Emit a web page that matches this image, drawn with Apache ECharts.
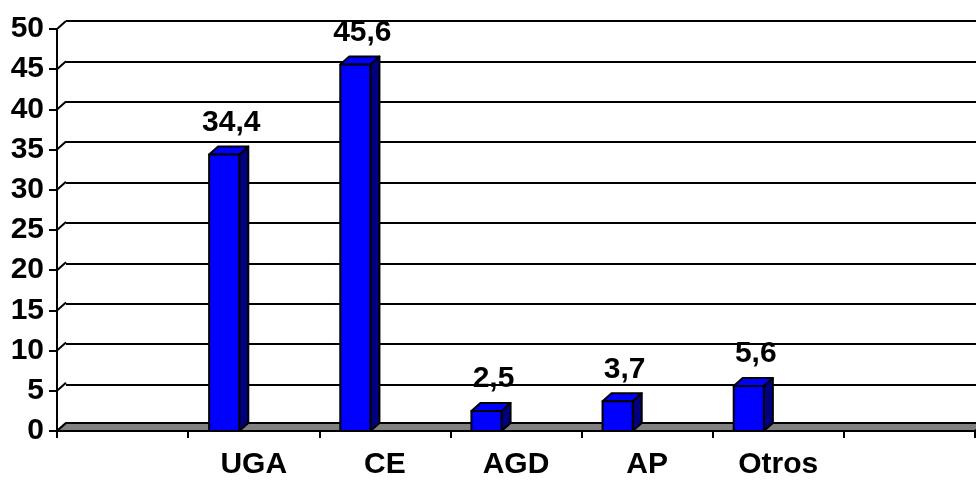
<!DOCTYPE html>
<html>
<head>
<meta charset="utf-8">
<script src="https://cdn.jsdelivr.net/npm/echarts@6/dist/echarts.min.js"></script>
<style>
  html, body { margin: 0; padding: 0; background: #fff; }
  #chart { width: 976px; height: 480px; }
</style>
</head>
<body>
<div id="chart"></div>
<script>
// Categories shown on the horizontal axis (empty slots at both ends)
const barCategories = ['UGA', 'CE', 'AGD', 'AP', 'Otros'];
const axisCategories = [''].concat(barCategories, ['']);
// Percentages per category
const values = [34.4, 45.6, 2.5, 3.7, 5.6];
// Vertical scale
const yMin = 0;
const yMax = 50;
const yStep = 5;
const yTicks = [0, 5, 10, 15, 20, 25, 30, 35, 40, 45, 50];

// Pseudo-3D depth offset (pixels) of the back wall relative to the front plane
const DX = 9;
const DY = -8;
const FONT = 'Liberation Sans, Arial, sans-serif';

const chart = echarts.init(document.getElementById('chart'), null, { renderer: 'canvas' });

function fmt(v) { return String(v).replace('.', ','); }

const option = {
  backgroundColor: '#ffffff',
  animation: false,
  grid: [
    // front plane: axes, labels, bars
    { left: 57, right: 1, top: 29, bottom: 47, containLabel: false },
    // back wall: gridlines
    { left: 57 + DX, right: 1 - DX, top: 29 + DY, bottom: 47 - DY, containLabel: false }
  ],
  xAxis: [
    {
      gridIndex: 0,
      type: 'category',
      data: axisCategories,
      boundaryGap: true,
      axisLine: { lineStyle: { color: '#000', width: 2 } },
      axisTick: { show: true, interval: 0, length: 7, lineStyle: { color: '#000', width: 2 } },
      axisLabel: {
        interval: 0, margin: 19, color: '#000',
        fontFamily: FONT, fontWeight: 'bold', fontSize: 30
      },
      splitLine: { show: false },
      z: 5
    },
    {
      gridIndex: 1,
      type: 'category',
      data: axisCategories,
      show: false
    }
  ],
  yAxis: [
    {
      gridIndex: 0,
      type: 'value',
      min: yMin, max: yMax, interval: yStep,
      axisLine: { show: true, lineStyle: { color: '#000', width: 2 } },
      axisTick: { show: true, length: 8, lineStyle: { color: '#000', width: 2 } },
      axisLabel: {
        margin: 13, color: '#000',
        fontFamily: FONT, fontWeight: 'bold', fontSize: 30
      },
      splitLine: { show: false },
      z: 5
    },
    {
      gridIndex: 1,
      type: 'value',
      min: yMin, max: yMax, interval: yStep,
      axisLine: { show: false },
      axisTick: { show: false },
      axisLabel: { show: false },
      splitLine: { show: true, lineStyle: { color: '#000', width: 2 } }
    }
  ],
  series: [
    // left wall gridline connectors (front axis tick to back wall)
    {
      type: 'custom',
      xAxisIndex: 0, yAxisIndex: 0,
      clip: false,
      z: 1,
      data: yTicks.map(function (t) { return [0, t]; }),
      renderItem: function (params, api) {
        const cs = params.coordSys;
        const y = api.coord([0, api.value(1)])[1];
        return {
          type: 'line',
          shape: { x1: cs.x, y1: y, x2: cs.x + DX, y2: y + DY },
          style: { stroke: '#000', lineWidth: 2 }
        };
      }
    },
    // floor slab
    {
      type: 'custom',
      xAxisIndex: 0, yAxisIndex: 0,
      clip: false,
      z: 2,
      data: [[0, 0]],
      renderItem: function (params, api) {
        const cs = params.coordSys;
        const y = api.coord([0, 0])[1];
        const xl = cs.x, xr = cs.x + cs.width;
        return {
          type: 'polygon',
          shape: { points: [[xl, y], [xr, y], [xr + DX, y + DY], [xl + DX, y + DY]] },
          style: { fill: '#808080', stroke: '#000', lineWidth: 2 }
        };
      }
    },
    // 3D columns with value labels
    {
      type: 'custom',
      xAxisIndex: 0, yAxisIndex: 0,
      clip: false,
      z: 3,
      data: values.map(function (v, i) { return [i + 1, v]; }),
      renderItem: function (params, api) {
        const idx = api.value(0);
        const v = api.value(1);
        const top = api.coord([idx, v]);
        const base = api.coord([idx, 0]);
        const band = api.size([1, 0])[0];
        const w = band * 0.23;
        const cx = top[0] - band * 0.225;
        const x0 = cx - w / 2, x1 = cx + w / 2;
        const yt = top[1], yb = base[1];
        const stroke = { stroke: '#000', lineWidth: 2, lineJoin: 'round' };
        return {
          type: 'group',
          children: [
            {
              type: 'polygon',
              shape: { points: [[x1, yb], [x1 + DX, yb + DY], [x1 + DX, yt + DY], [x1, yt]] },
              style: Object.assign({ fill: '#000080' }, stroke)
            },
            {
              type: 'polygon',
              shape: { points: [[x0, yt], [x1, yt], [x1 + DX, yt + DY], [x0 + DX, yt + DY]] },
              style: Object.assign({ fill: '#0000FF' }, stroke)
            },
            {
              type: 'rect',
              shape: { x: x0, y: yt, width: w, height: yb - yt },
              style: Object.assign({ fill: '#0000FF' }, stroke)
            },
            {
              type: 'text',
              style: {
                x: cx + 7, y: yt - 32,
                text: fmt(v),
                align: 'center', verticalAlign: 'middle',
                fill: '#000', font: 'bold 30px ' + FONT
              }
            }
          ]
        };
      }
    }
  ]
};

chart.setOption(option);
</script>
</body>
</html>
